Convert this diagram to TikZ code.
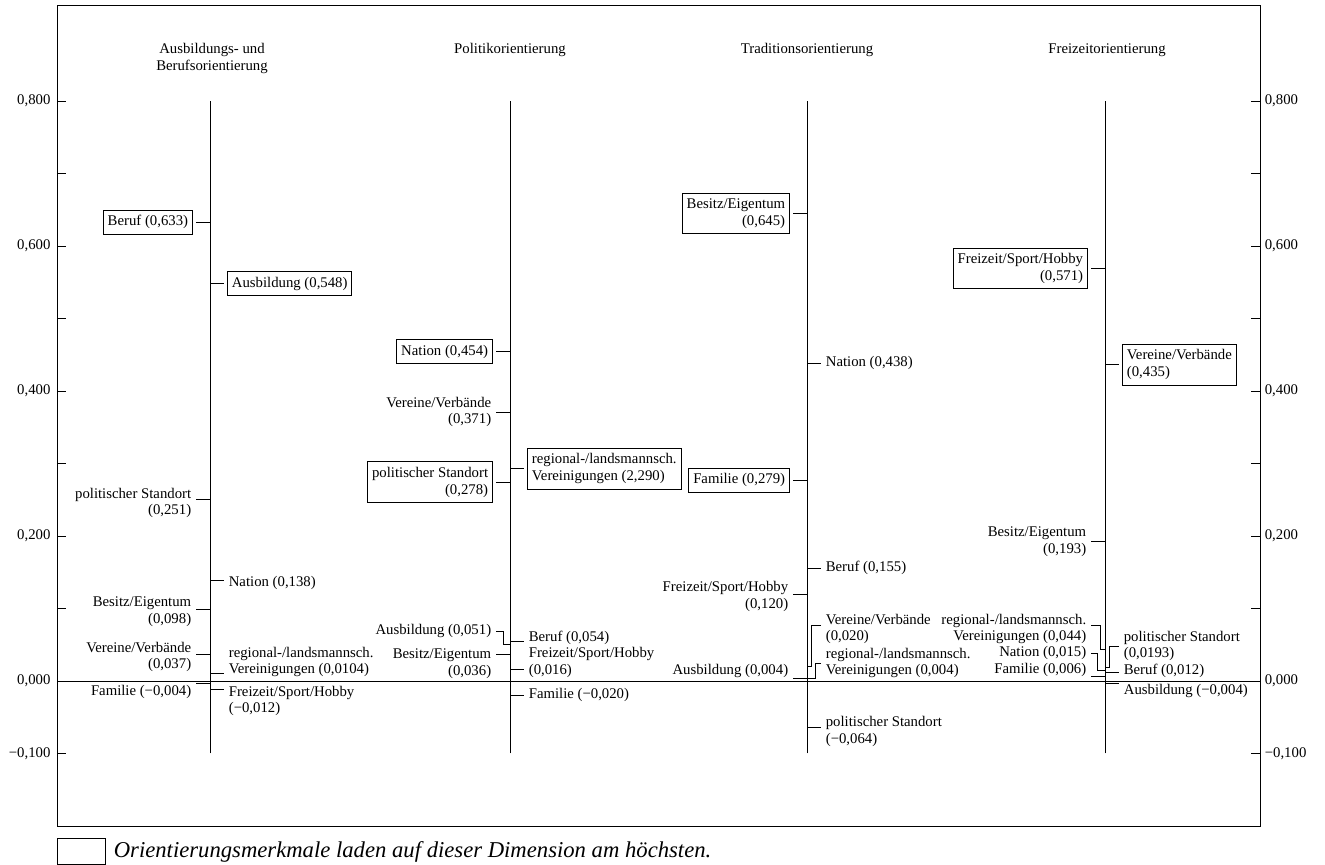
\documentclass[tikz,border=0pt]{standalone}
\usepackage{fontspec}
\setmainfont{Liberation Serif}
\usetikzlibrary{positioning}

\begin{document}
\begin{tikzpicture}[x=1cm, y=14.5cm, line width=0.5pt,
  lab/.style={font=\fontsize{8.4}{9.6}\selectfont, inner xsep=2.5pt, inner ysep=3pt},
  ll/.style={lab, anchor=east, align=right},
  rl/.style={lab, anchor=west, align=left},
  hi/.style={draw, outer sep=2pt},
  ttl/.style={lab, anchor=north, align=center}]
\useasboundingbox (0,-0.2538) rectangle (26.5,0.9393);

% frame, zero line, scales
\draw (1.14,-0.2) rectangle (25.2,0.9324);
\draw (1.14,0) -- (25.2,0);
\foreach \k in {-1,...,8} {
  \draw (1.14,\k/10) -- (1.32,\k/10);
  \draw (25.02,\k/10) -- (25.2,\k/10);
}
\foreach \v/\t [count=\i] in {0.8/{0,800},0.6/{0,600},0.4/{0,400},0.2/{0,200},0/{0,000},-0.1/{−0,100}} {
  \node[lab, anchor=east, inner xsep=3.5pt] (yl\i) at (1.14,\v) {\t};
  \node[lab, anchor=west] (yr\i) at (25.2,\v) {\t};
}

% titles
\node[ttl] (t1) at (4.24,0.887) {Ausbildungs- und\\Berufsorientierung};
\node[ttl] (t2) at (10.2,0.887) {Politikorientierung};
\node[ttl] (t3) at (16.14,0.887) {Traditionsorientierung};
\node[ttl] (t4) at (22.14,0.887) {Freizeitorientierung};

% column 1
\draw (4.2,-0.1) -- (4.2,0.8);
\coordinate (beruf1v) at (4.2,0.633);
\node[ll,hi] (beruf1) at (3.92,0.633) {Beruf (0,633)};
\draw (beruf1.east |- beruf1v) -- (beruf1v);
\coordinate (pol1v) at (4.2,0.251);
\node[ll] (pol1) at (3.92,0.2455) {politischer Standort\\(0,251)};
\draw (pol1.east |- pol1v) -- (pol1v);
\coordinate (bes1v) at (4.2,0.098);
\node[ll] (bes1) at (3.92,0.0952) {Besitz/Eigentum\\(0,098)};
\draw (bes1.east |- bes1v) -- (bes1v);
\coordinate (ver1v) at (4.2,0.037);
\node[ll] (ver1) at (3.92,0.0331) {Vereine/Verbände\\(0,037)};
\draw (ver1.east |- ver1v) -- (ver1v);
\coordinate (fam1v) at (4.2,-0.004);
\node[ll] (fam1) at (3.92,-0.0152) {Familie (−0,004)};
\draw (fam1.east |- fam1v) -- (fam1v);
\coordinate (ausb1v) at (4.2,0.548);
\node[rl,hi] (ausb1) at (4.48,0.548) {Ausbildung (0,548)};
\draw (ausb1v) -- (ausb1.west |- ausb1v);
\coordinate (nat1v) at (4.2,0.138);
\node[rl] (nat1) at (4.48,0.135) {Nation (0,138)};
\draw (nat1v) -- (nat1.west |- nat1v);
\coordinate (reg1v) at (4.2,0.0104);
\node[rl] (reg1) at (4.48,0.0262) {regional-/landsmannsch.\\Vereinigungen (0,0104)};
\draw (reg1v) -- (reg1.west |- reg1v);
\coordinate (frz1v) at (4.2,-0.012);
\node[rl] (frz1) at (4.48,-0.0276) {Freizeit/Sport/Hobby\\(−0,012)};
\draw (frz1v) -- (frz1.west |- frz1v);

% column 2
\draw (10.2,-0.1) -- (10.2,0.8);
\coordinate (nat2v) at (10.2,0.454);
\node[ll,hi] (nat2) at (9.92,0.454) {Nation (0,454)};
\draw (nat2.east |- nat2v) -- (nat2v);
\coordinate (ver2v) at (10.2,0.371);
\node[ll] (ver2) at (9.92,0.371) {Vereine/Verbände\\(0,371)};
\draw (ver2.east |- ver2v) -- (ver2v);
\coordinate (pol2v) at (10.2,0.274);
\node[ll,hi] (pol2) at (9.92,0.274) {politischer Standort\\(0,278)};
\draw (pol2.east |- pol2v) -- (pol2v);
\coordinate (ausb2v) at (10.2,0.051);
\node[ll] (ausb2) at (9.92,0.069) {Ausbildung (0,051)};
\draw (ausb2.east) -- ++(0.14,0) |- (ausb2v);
\coordinate (bes2v) at (10.2,0.036);
\node[ll] (bes2) at (9.92,0.0234) {Besitz/Eigentum\\(0,036)};
\draw (bes2.east |- bes2v) -- (bes2v);
\coordinate (reg2v) at (10.2,0.293);
\node[rl,hi] (reg2) at (10.48,0.293) {regional-/landsmannsch.\\Vereinigungen (2,290)};
\draw (reg2v) -- (reg2.west |- reg2v);
\coordinate (beruf2v) at (10.2,0.054);
\node[rl] (beruf2) at (10.48,0.0593) {Beruf (0,054)};
\draw (beruf2v) -- (beruf2.west |- beruf2v);
\coordinate (frz2v) at (10.2,0.016);
\node[rl] (frz2) at (10.48,0.0255) {Freizeit/Sport/Hobby\\(0,016)};
\draw (frz2v) -- (frz2.west |- frz2v);
\coordinate (fam2v) at (10.2,-0.020);
\node[rl] (fam2) at (10.48,-0.0193) {Familie (−0,020)};
\draw (fam2v) -- (fam2.west |- fam2v);

% column 3
\draw (16.14,-0.1) -- (16.14,0.8);
\coordinate (bes3v) at (16.14,0.645);
\node[ll,hi] (bes3) at (15.86,0.645) {Besitz/Eigentum\\(0,645)};
\draw (bes3.east |- bes3v) -- (bes3v);
\coordinate (fam3v) at (16.14,0.277);
\node[ll,hi] (fam3) at (15.86,0.277) {Familie (0,279)};
\draw (fam3.east |- fam3v) -- (fam3v);
\coordinate (frz3v) at (16.14,0.120);
\node[ll] (frz3) at (15.86,0.117) {Freizeit/Sport/Hobby\\(0,120)};
\draw (frz3.east |- frz3v) -- (frz3v);
\coordinate (ausb3v) at (16.14,0.004);
\node[ll] (ausb3) at (15.86,0.0138) {Ausbildung (0,004)};
\draw (ausb3.east |- ausb3v) -- (ausb3v);
\coordinate (nat3v) at (16.14,0.438);
\node[rl] (nat3) at (16.42,0.4386) {Nation (0,438)};
\draw (nat3v) -- (nat3.west |- nat3v);
\coordinate (beruf3v) at (16.14,0.155);
\node[rl] (beruf3) at (16.42,0.1559) {Beruf (0,155)};
\draw (beruf3v) -- (beruf3.west |- beruf3v);
\coordinate (ver3v) at (16.14,0.020);
\node[rl] (ver3) at (16.42,0.0717) {Vereine/Verbände\\(0,020)};
\draw ([yshift=0.08cm]ver3.west) -- ++(-0.2,0) |- (ver3v);
\coordinate (reg3v) at (16.14,0.004);
\node[rl] (reg3) at (16.42,0.0248) {regional-/landsmannsch.\\Vereinigungen (0,004)};
\draw (reg3.west) -- ++(-0.12,0) |- (reg3v);
\coordinate (pol3v) at (16.14,-0.064);
\node[rl] (pol3) at (16.42,-0.069) {politischer Standort\\(−0,064)};
\draw (pol3v) -- (pol3.west |- pol3v);

% column 4
\draw (22.1,-0.1) -- (22.1,0.8);
\coordinate (frz4v) at (22.1,0.569);
\node[ll,hi] (frz4) at (21.82,0.569) {Freizeit/Sport/Hobby\\(0,571)};
\draw (frz4.east |- frz4v) -- (frz4v);
\coordinate (bes4v) at (22.1,0.193);
\node[ll] (bes4) at (21.82,0.1917) {Besitz/Eigentum\\(0,193)};
\draw (bes4.east |- bes4v) -- (bes4v);
\coordinate (reg4v) at (22.1,0.044);
\node[ll] (reg4) at (21.82,0.0717) {regional-/landsmannsch.\\Vereinigungen (0,044)};
\draw ([yshift=0.08cm]reg4.east) -- ++(0.18,0) |- (reg4v);
\coordinate (nat4v) at (22.1,0.015);
\node[ll] (nat4) at (21.82,0.0386) {Nation (0,015)};
\draw (nat4.east) -- ++(0.12,0) |- (nat4v);
\coordinate (fam4v) at (22.1,0.006);
\node[ll] (fam4) at (21.82,0.0152) {Familie (0,006)};
\draw (fam4.east |- fam4v) -- (fam4v);
\coordinate (ver4v) at (22.1,0.436);
\node[rl,hi] (ver4) at (22.38,0.436) {Vereine/Verbände\\(0,435)};
\draw (ver4v) -- (ver4.west |- ver4v);
\coordinate (pol4v) at (22.1,0.0193);
\node[rl] (pol4) at (22.38,0.0483) {politischer Standort\\(0,0193)};
\draw (pol4.west) -- ++(-0.2,0) |- (pol4v);
\coordinate (beruf4v) at (22.1,0.012);
\node[rl] (beruf4) at (22.38,0.0138) {Beruf (0,012)};
\draw (beruf4v) -- (beruf4.west |- beruf4v);
\coordinate (ausb4v) at (22.1,-0.004);
\node[rl] (ausb4) at (22.38,-0.0138) {Ausbildung (−0,004)};
\draw (ausb4v) -- (ausb4.west |- ausb4v);

% legend
\node[draw, minimum width=0.96cm, minimum height=0.52cm, anchor=north west, inner sep=0pt] (legbox) at (1.14,-0.2166) {};
\node[right=0.08cm of legbox, font=\fontsize{12.9}{14}\selectfont\itshape, inner sep=2pt] (legtext) {Orientierungsmerkmale laden auf dieser Dimension am höchsten.};
\end{tikzpicture}
\end{document}
